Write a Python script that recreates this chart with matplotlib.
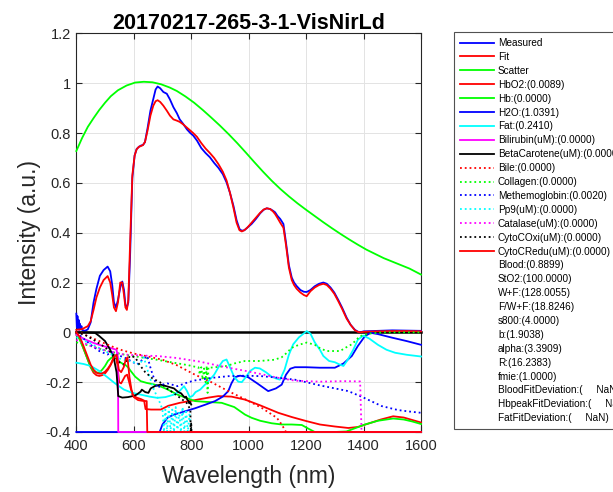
import matplotlib
matplotlib.use('Agg')
import matplotlib.pyplot as plt
from matplotlib.lines import Line2D
from matplotlib.ticker import FuncFormatter

plt.rcParams['font.family'] = ['Liberation Sans', 'DejaVu Sans']
plt.rcParams['axes.unicode_minus'] = False

title = "20170217-265-3-1-VisNirLd"
x_ticks = [400, 600, 800, 1000, 1200, 1400, 1600]
y_ticks = [-0.4, -0.2, 0, 0.2, 0.4, 0.6, 0.8, 1.0, 1.2]

# (wavelength nm, intensity) pairs for each spectrum
measured = [(400, 0.075), (402, 0.02), (404, 0.065), (406, 0.015), (408, 0.05), (410, 0.01),
            (412, 0.035), (415, 0.012), (418, 0.025), (420, 0.01), (430, 0.006), (440, 0.012),
            (450, 0.04), (460, 0.12), (470, 0.175), (482, 0.227), (495, 0.25), (509, 0.264),
            (518, 0.245), (525, 0.19), (531, 0.12), (538, 0.1), (545, 0.13), (553, 0.18),
            (560, 0.204), (566, 0.17), (571, 0.11), (576, 0.1), (581, 0.12), (587, 0.3),
            (595, 0.62), (603, 0.71), (610, 0.736), (618, 0.745), (625, 0.75), (632, 0.752),
            (639, 0.764), (648, 0.82), (658, 0.89), (668, 0.937), (676, 0.975), (683, 0.987),
            (692, 0.98), (703, 0.965), (715, 0.958), (726, 0.935), (738, 0.904), (750, 0.88),
            (760, 0.855), (772, 0.837), (785, 0.815), (797, 0.8), (807, 0.79), (820, 0.77),
            (835, 0.74), (850, 0.72), (865, 0.703), (880, 0.68), (895, 0.66), (910, 0.635),
            (923, 0.602), (935, 0.56), (947, 0.508), (958, 0.45), (968, 0.415), (976, 0.408),
            (985, 0.41), (995, 0.42), (1010, 0.435), (1025, 0.455), (1040, 0.478), (1052, 0.492),
            (1063, 0.498), (1075, 0.495), (1085, 0.488), (1092, 0.482), (1100, 0.468),
            (1110, 0.455), (1121, 0.435), (1130, 0.36), (1140, 0.27), (1150, 0.22), (1158, 0.2),
            (1167, 0.186), (1180, 0.17), (1192, 0.163), (1202, 0.162), (1215, 0.17), (1230, 0.185),
            (1245, 0.195), (1260, 0.2), (1272, 0.195), (1285, 0.18), (1298, 0.16), (1312, 0.13),
            (1325, 0.1), (1341, 0.059), (1355, 0.03), (1370, 0.01), (1380, 0.003), (1388, 0.0),
            (1400, 0.004), (1450, 0.006), (1500, 0.008), (1550, 0.007), (1600, 0.006)]

fit = [(400, 0.01), (420, 0.013), (440, 0.025), (450, 0.045), (460, 0.09), (470, 0.14),
       (482, 0.18), (495, 0.21), (509, 0.226), (518, 0.2), (525, 0.15), (531, 0.1), (538, 0.085),
       (545, 0.12), (553, 0.2), (560, 0.2), (566, 0.15), (571, 0.1), (576, 0.09), (581, 0.13),
       (587, 0.35), (595, 0.63), (603, 0.71), (610, 0.735), (618, 0.745), (625, 0.748),
       (632, 0.752), (639, 0.764), (648, 0.81), (658, 0.87), (668, 0.91), (676, 0.928),
       (683, 0.932), (692, 0.925), (703, 0.91), (715, 0.89), (726, 0.87), (738, 0.855),
       (750, 0.85), (760, 0.845), (772, 0.835), (785, 0.822), (797, 0.81), (807, 0.8),
       (820, 0.785), (835, 0.76), (850, 0.738), (865, 0.72), (880, 0.7), (895, 0.675),
       (910, 0.645), (923, 0.61), (935, 0.56), (947, 0.5), (958, 0.44), (968, 0.41),
       (976, 0.405), (985, 0.41), (995, 0.42), (1010, 0.44), (1025, 0.46), (1040, 0.48),
       (1052, 0.493), (1063, 0.498), (1075, 0.495), (1085, 0.485), (1092, 0.475), (1100, 0.46),
       (1110, 0.44), (1121, 0.42), (1130, 0.35), (1140, 0.26), (1150, 0.21), (1158, 0.19),
       (1167, 0.175), (1180, 0.16), (1192, 0.15), (1202, 0.145), (1215, 0.165), (1230, 0.18),
       (1245, 0.19), (1260, 0.195), (1272, 0.19), (1285, 0.175), (1298, 0.155), (1312, 0.125),
       (1325, 0.095), (1341, 0.055), (1355, 0.03), (1370, 0.008), (1380, 0.002), (1388, 0.0),
       (1400, 0.002), (1450, 0.004), (1500, 0.005), (1550, 0.005), (1600, 0.004)]

scatter = [(400, 0.728), (420, 0.78), (440, 0.825), (460, 0.86), (480, 0.893), (500, 0.922),
           (520, 0.948), (545, 0.972), (575, 0.991), (605, 1.003), (635, 1.006), (665, 1.004),
           (695, 0.996), (725, 0.983), (750, 0.969), (780, 0.947), (810, 0.922), (840, 0.893),
           (870, 0.862), (900, 0.83), (930, 0.796), (960, 0.76), (990, 0.722), (1020, 0.683),
           (1050, 0.645), (1080, 0.609), (1110, 0.576), (1140, 0.546), (1170, 0.518),
           (1200, 0.492), (1230, 0.467), (1260, 0.442), (1290, 0.418), (1320, 0.395),
           (1350, 0.373), (1380, 0.352), (1410, 0.332), (1440, 0.315), (1470, 0.298),
           (1500, 0.284), (1530, 0.27), (1560, 0.256), (1600, 0.232)]

hbo2 = [(400, 0.0), (410, -0.02), (420, -0.05), (430, -0.08), (440, -0.11), (450, -0.14),
        (460, -0.162), (470, -0.172), (480, -0.175), (490, -0.172), (500, -0.165), (510, -0.15),
        (520, -0.13), (530, -0.105), (537, -0.095), (543, -0.13), (549, -0.2), (556, -0.205),
        (563, -0.19), (570, -0.175), (577, -0.17), (584, -0.2), (595, -0.25), (610, -0.262),
        (625, -0.268), (636, -0.274), (641, -0.308), (660, -0.31), (694, -0.31), (720, -0.295),
        (760, -0.283), (813, -0.272), (860, -0.262), (894, -0.256), (940, -0.258), (987, -0.27),
        (1040, -0.293), (1103, -0.323), (1150, -0.34), (1200, -0.356), (1248, -0.37),
        (1300, -0.378), (1347, -0.384), (1380, -0.38), (1420, -0.365), (1460, -0.35),
        (1503, -0.337), (1540, -0.342), (1570, -0.352), (1600, -0.362)]

hb = [(400, -0.01), (410, -0.025), (420, -0.05), (430, -0.08), (440, -0.11), (450, -0.14),
      (460, -0.155), (470, -0.161), (480, -0.162), (490, -0.15), (500, -0.135), (510, -0.115),
      (520, -0.104), (531, -0.095), (540, -0.1), (550, -0.118), (560, -0.125), (570, -0.13),
      (580, -0.14), (590, -0.156), (605, -0.178), (624, -0.196), (645, -0.203), (670, -0.209),
      (695, -0.218), (717, -0.229), (752, -0.25), (780, -0.262), (813, -0.276), (850, -0.279),
      (906, -0.283), (950, -0.3), (987, -0.33), (1010, -0.343), (1040, -0.355), (1080, -0.365),
      (1115, -0.37), (1150, -0.37), (1185, -0.372), (1210, -0.388), (1230, -0.4), (1300, -0.4),
      (1340, -0.398), (1370, -0.385), (1405, -0.37), (1450, -0.355), (1503, -0.346),
      (1540, -0.35), (1570, -0.358), (1600, -0.368)]

h2o = [(400, -0.4), (546, -0.4), (690, -0.4), (700, -0.37), (717, -0.343), (740, -0.33),
       (770, -0.32), (798, -0.31), (813, -0.305), (850, -0.29), (883, -0.276), (910, -0.258),
       (929, -0.236), (940, -0.205), (952, -0.18), (970, -0.174), (998, -0.18), (1030, -0.205),
       (1068, -0.236), (1095, -0.225), (1115, -0.21), (1130, -0.17), (1145, -0.146),
       (1161, -0.14), (1200, -0.14), (1248, -0.142), (1300, -0.142), (1330, -0.125),
       (1359, -0.095), (1380, -0.055), (1405, -0.015), (1425, -0.002), (1450, -0.007),
       (1498, -0.021), (1550, -0.035), (1600, -0.05)]

fat = [(400, -0.122), (425, -0.127), (450, -0.135), (480, -0.155), (508, -0.18), (535, -0.205),
       (566, -0.23), (595, -0.243), (624, -0.25), (655, -0.258), (682, -0.263), (710, -0.26),
       (740, -0.25), (760, -0.235), (775, -0.216), (785, -0.235), (795, -0.26), (805, -0.255),
       (815, -0.24), (831, -0.23), (848, -0.21), (865, -0.19), (880, -0.17), (895, -0.14),
       (910, -0.115), (923, -0.109), (935, -0.14), (950, -0.18), (964, -0.198), (976, -0.2),
       (990, -0.18), (1005, -0.155), (1022, -0.142), (1039, -0.145), (1060, -0.16),
       (1080, -0.178), (1095, -0.185), (1109, -0.19), (1125, -0.15), (1140, -0.09),
       (1155, -0.048), (1175, -0.02), (1202, 0.005), (1215, -0.005), (1230, -0.04),
       (1248, -0.07), (1260, -0.095), (1280, -0.115), (1300, -0.12), (1318, -0.13),
       (1330, -0.135), (1345, -0.11), (1364, -0.07), (1380, -0.03), (1399, -0.013),
       (1420, -0.025), (1450, -0.05), (1480, -0.07), (1510, -0.082), (1550, -0.09),
       (1600, -0.097)]

bilirubin = [(400, -0.01), (430, -0.028), (459, -0.042), (490, -0.054), (517, -0.062),
             (540, -0.07), (545, -0.1), (546, -0.4), (1600, -0.4)]

beta_carotene = [(400, 0.0), (430, 0.0), (465, -0.002), (480, -0.015), (500, -0.035),
                 (517, -0.068), (530, -0.1), (540, -0.16), (546, -0.256), (560, -0.262),
                 (580, -0.26), (600, -0.255), (610, -0.25), (624, -0.238), (628, -0.23),
                 (640, -0.24), (651, -0.243), (659, -0.225), (675, -0.215), (694, -0.21),
                 (710, -0.215), (740, -0.225), (755, -0.24), (765, -0.245), (772, -0.255),
                 (778, -0.262), (782, -0.258), (786, -0.27), (790, -0.275), (793, -0.285),
                 (796, -0.28), (800, -0.29)]

bile = [(400, 0.0), (420, -0.005), (450, -0.02), (480, -0.035), (520, -0.055), (560, -0.072),
        (600, -0.085), (650, -0.097), (700, -0.11), (750, -0.132), (813, -0.17), (870, -0.2),
        (929, -0.236), (990, -0.27), (1045, -0.303), (1098, -0.343), (1115, -0.37),
        (1130, -0.4)]

collagen = [(400, -0.04), (450, -0.055), (508, -0.075), (560, -0.088), (624, -0.1),
            (680, -0.11), (740, -0.122), (790, -0.132), (813, -0.138), (825, -0.14),
            (830, -0.17), (835, -0.14), (840, -0.19), (845, -0.145), (850, -0.2), (854, -0.135),
            (857, -0.243), (860, -0.14), (865, -0.142), (900, -0.138), (923, -0.135),
            (950, -0.125), (987, -0.115), (1039, -0.115), (1090, -0.11), (1115, -0.1),
            (1130, -0.085), (1150, -0.062), (1175, -0.05), (1202, -0.041), (1230, -0.05),
            (1250, -0.065), (1272, -0.075), (1318, -0.075), (1340, -0.06), (1359, -0.048),
            (1388, -0.015), (1420, -0.005), (1469, 0.0), (1600, 0.0)]

methemoglobin = [(400, 0.0), (420, -0.02), (450, -0.05), (480, -0.075), (508, -0.089),
                 (525, -0.08), (540, -0.09), (566, -0.1), (590, -0.115), (612, -0.129),
                 (630, -0.11), (647, -0.095), (660, -0.15), (682, -0.223), (700, -0.21),
                 (717, -0.205), (752, -0.216), (790, -0.2), (813, -0.193), (870, -0.183),
                 (929, -0.176), (990, -0.174), (1045, -0.176), (1100, -0.182), (1161, -0.19),
                 (1200, -0.2), (1248, -0.213), (1300, -0.225), (1347, -0.236), (1400, -0.262),
                 (1463, -0.296), (1520, -0.312), (1560, -0.318), (1600, -0.323)]

pp9 = [(400, -0.02), (450, -0.045), (500, -0.075), (550, -0.105), (600, -0.12), (620, -0.13),
       (635, -0.1), (650, -0.16), (670, -0.23), (690, -0.28), (700, -0.31), (705, -0.4),
       (710, -0.31), (716, -0.4), (722, -0.3), (728, -0.4), (734, -0.31), (740, -0.4),
       (746, -0.3), (752, -0.4), (758, -0.32), (764, -0.4), (770, -0.3), (776, -0.4),
       (782, -0.31), (788, -0.4), (794, -0.33), (800, -0.4)]

catalase = [(400, -0.03), (450, -0.055), (508, -0.075), (566, -0.089), (620, -0.093),
            (682, -0.095), (750, -0.103), (827, -0.117), (880, -0.13), (929, -0.142),
            (990, -0.155), (1045, -0.168), (1100, -0.182), (1161, -0.194), (1248, -0.198),
            (1330, -0.196), (1388, -0.197), (1393, -0.4)]

cyto_c_oxi = [(400, 0.0), (430, -0.01), (460, -0.03), (500, -0.06), (530, -0.09), (550, -0.12),
              (565, -0.13), (587, -0.095), (605, -0.1), (620, -0.13), (640, -0.16), (665, -0.185),
              (691, -0.2), (715, -0.225), (738, -0.243), (760, -0.262), (784, -0.283),
              (797, -0.31), (798, -0.4), (800, -0.36), (801, -0.4)]

cyto_c_redu = [(400, 0.0), (410, -0.015), (420, -0.04), (430, -0.07), (440, -0.1), (450, -0.13),
               (460, -0.15), (470, -0.162), (480, -0.166), (490, -0.165), (500, -0.158),
               (510, -0.145), (520, -0.128), (530, -0.1), (540, -0.09), (548, -0.15),
               (556, -0.16), (565, -0.14), (572, -0.11), (578, -0.1), (585, -0.18), (592, -0.23),
               (600, -0.26), (615, -0.272), (630, -0.275), (645, -0.276), (647, -0.4),
               (1600, -0.4)]

baseline = [(400, 0.0), (1600, 0.0)]

# legend labels for the plotted curves, in plot order
curve_labels = ["Measured", "Fit", "Scatter", "HbO2:(0.0089)", "Hb:(0.0000)", "H2O:(1.0391)",
                "Fat:(0.2410)", "Bilirubin(uM):(0.0000)", "BetaCarotene(uM):(0.0000)",
                "Bile:(0.0000)", "Collagen:(0.0000)", "Methemoglobin:(0.0020)",
                "Pp9(uM):(0.0000)", "Catalase(uM):(0.0000)", "CytoCOxi(uM):(0.0000)",
                "CytoCRedu(uM):(0.0000)"]
curve_data = [measured, fit, scatter, hbo2, hb, h2o, fat, bilirubin, beta_carotene, bile,
              collagen, methemoglobin, pp9, catalase, cyto_c_oxi, cyto_c_redu]

# fitted parameters listed in the legend without a line
param_labels = ["Blood:(0.8899)", "StO2:(100.0000)", "W+F:(128.0055)", "F/W+F:(18.8246)",
                "s800:(4.0000)", "b:(1.9038)", "alpha:(3.3909)", "R:(16.2383)", "fmie:(1.0000)",
                "BloodFitDeviation:(     NaN)", "HbpeakFitDeviation:(     NaN)",
                "FatFitDeviation:(     NaN)"]

curve_styles = [('#0000ff', '-'), ('#ff0000', '-'), ('#00ff00', '-'), ('#ff0000', '-'),
                ('#00ff00', '-'), ('#0000ff', '-'), ('#00ffff', '-'), ('#ff00ff', '-'),
                ('#000000', '-'), ('#ff0000', ':'), ('#00ff00', ':'), ('#0000ff', ':'),
                ('#00ffff', ':'), ('#ff00ff', ':'), ('#000000', ':'), ('#ff0000', '-')]

fig = plt.figure(figsize=(6.13, 4.92), dpi=100)
ax = fig.add_axes([0.1245, 0.122, 0.5623, 0.81])

bx, by = zip(*baseline)
ax.plot(bx, by, color='k', lw=1.8, clip_on=False, zorder=3)

handles = []
for pts, label, (color, ls) in zip(curve_data, curve_labels, curve_styles):
    xs, ys = zip(*pts)
    line, = ax.plot(xs, ys, color=color, linestyle=ls, lw=1.3, label=label,
                    clip_on=False, zorder=3)
    handles.append(line)

labels = list(curve_labels)
for text in param_labels:
    handles.append(Line2D([], [], linestyle='none'))
    labels.append(text)

ax.set_xlim(400, 1600)
ax.set_ylim(-0.4, 1.2)
ax.set_xticks(x_ticks)
ax.set_yticks(y_ticks)
ax.yaxis.set_major_formatter(FuncFormatter(lambda v, p: f'{v:g}'))
ax.grid(True, color='#e3e3e3', lw=0.7)
ax.set_axisbelow(True)
ax.tick_params(direction='in', length=4, width=0.8, top=True, right=True,
               labelsize=10.5, colors='#262626')
ax.tick_params(axis='x', pad=5)
ax.tick_params(axis='y', pad=4)
for sp in ax.spines.values():
    sp.set_color('#262626')
    sp.set_linewidth(0.8)

ax.set_title(title, fontsize=15.5, fontweight='bold', pad=3)
ax.set_xlabel("Wavelength (nm)", fontsize=16.5, color='#262626', labelpad=9)
ax.set_ylabel("Intensity (a.u.)", fontsize=16.5, color='#262626', labelpad=3)

leg = fig.legend(handles, labels, loc='upper left', bbox_to_anchor=(454 / 613, 1 - 32 / 492),
                 bbox_transform=fig.transFigure, fontsize=7.2, frameon=True, fancybox=False,
                 borderpad=0.6, labelspacing=0.39, handlelength=3.4, handletextpad=0.4,
                 borderaxespad=0)
leg.get_frame().set_edgecolor('#262626')
leg.get_frame().set_linewidth(0.8)

fig.savefig('out.png', dpi=100)
